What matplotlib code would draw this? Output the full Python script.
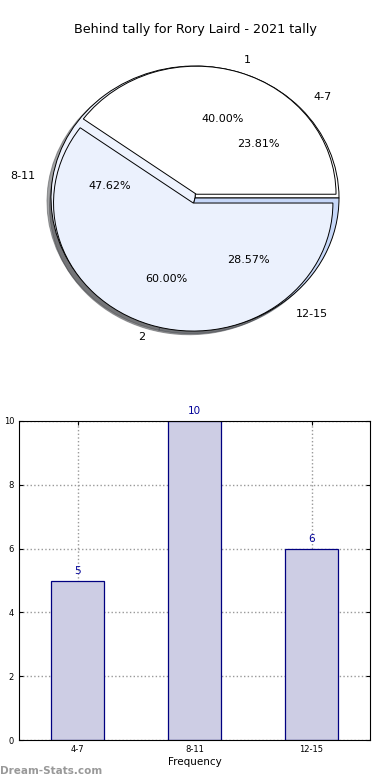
import matplotlib
matplotlib.use('Agg')
import matplotlib.pyplot as plt

# данные
ranges = ['4-7', '8-11', '12-15']
counts = [5, 10, 6]
halves = ['1', '2']
half_share = [40, 60]

fig = plt.figure(figsize=(3.9, 7.8), dpi=100)
fig.text(0.5, 1 - 30 / 780, 'Behind tally for Rory Laird - 2021 tally',
         ha='center', va='center', fontsize=9.2)

# круговая диаграмма
ax1 = fig.add_axes([0, 1 - 356 / 780, 1, 316 / 780])
ax1.pie(counts, labels=ranges, autopct='%.2f%%', startangle=0,
        colors=['#ffffff', '#eef3fe', '#c6d7f8'], shadow=True, radius=1.0,
        labeldistance=1.12, pctdistance=0.6,
        wedgeprops={'edgecolor': 'black', 'linewidth': 0.7},
        textprops={'fontsize': 8})
ax1.pie(half_share, labels=halves, autopct='%.2f%%', startangle=0,
        colors=['#ffffff', '#ebf1fd'], shadow=True, radius=0.97,
        explode=(0.03, 0.04), labeldistance=1.1, pctdistance=0.62,
        wedgeprops={'edgecolor': 'black', 'linewidth': 0.7},
        textprops={'fontsize': 8})
ax1.set_aspect('auto')
ax1.set_xlim(-195 / 144, 195 / 144)
ax1.set_ylim(-158 / 132, 158 / 132)
ax1.axis('off')

# столбчатая диаграмма
ax2 = fig.add_axes([19 / 390, 1 - 740 / 780, 351 / 390, 319 / 780])
x = list(range(len(ranges)))
bars = ax2.bar(x, counts, width=0.45, color='#cdcde4', edgecolor='#000080',
               linewidth=0.9, zorder=2)
for b, v in zip(bars, counts):
    ax2.text(b.get_x() + b.get_width() / 2, v + 0.15, str(v), ha='center',
             va='bottom', color='#000099', fontsize=7.5)
ax2.set_xlim(-0.5, 2.5)
ax2.set_ylim(0, 10)
ax2.set_xticks(x)
ax2.set_xticklabels(ranges)
ax2.set_yticks([0, 2, 4, 6, 8, 10])
ax2.tick_params(labelsize=6, direction='in', length=3, top=True, right=True)
ax2.grid(True, color='#999999', linestyle=':', linewidth=1.0, zorder=0)
ax2.set_axisbelow(True)
ax2.set_xlabel('Frequency', fontsize=7.5, labelpad=2)
ax2.set_ylabel('Behind tally', fontsize=7.5)
ax2.yaxis.set_label_coords(-0.065, 0.5)

fig.text(0.0, 1 - 771 / 780, 'Dream-Stats.com', color='#999999',
         fontsize=7.5, fontweight='bold', ha='left', va='center')

plt.savefig('out.png', dpi=100)
